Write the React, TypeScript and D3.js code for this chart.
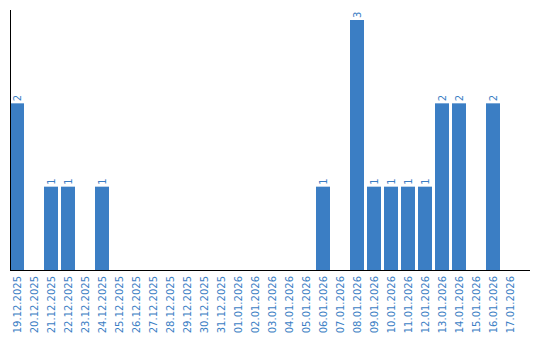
import React from "react";
import * as d3 from "d3";

const categories = [
  "19.12.2025", "20.12.2025", "21.12.2025", "22.12.2025", "23.12.2025", "24.12.2025",
  "25.12.2025", "26.12.2025", "27.12.2025", "28.12.2025", "29.12.2025", "30.12.2025",
  "31.12.2025", "01.01.2026", "02.01.2026", "03.01.2026", "04.01.2026", "05.01.2026",
  "06.01.2026", "07.01.2026", "08.01.2026", "09.01.2026", "10.01.2026", "11.01.2026",
  "12.01.2026", "13.01.2026", "14.01.2026", "15.01.2026", "16.01.2026", "17.01.2026",
];
const values = [2, 0, 1, 1, 0, 1, 0, 0, 0, 0, 0, 0, 0, 0, 0, 0, 0, 0, 1, 0, 3, 1, 1, 1, 1, 2, 2, 0, 2, 0];

const W = 540;
const H = 340;
const left = 10;
const base = 270;
const top = 10;
const step = 17;
const color = "#3b7ec4";
const font = "'DejaVu Sans', Verdana, sans-serif";

export default function App() {
  const x = d3.scaleBand<string>().domain(categories).range([left, left + categories.length * step]).padding(0);
  const y = d3.scaleLinear().domain([0, 3.12]).range([base, top]);
  const bw = x.bandwidth() - 3;
  return (
    <svg width={W} height={H} style={{ position: "absolute", left: 0, top: 0, display: "block" }}>
      {categories.map((c, i) => {
        const v = values[i];
        const bx = x(c)!;
        const cx = bx + bw / 2;
        return (
          <g key={c}>
            {v > 0 && (
              <>
                <rect x={bx} y={y(v)} width={bw} height={base - y(v)} fill={color} />
                <text
                  transform={`translate(${cx},${y(v) - 2}) rotate(-90)`}
                  dy="0.35em"
                  textAnchor="start"
                  fontFamily={font}
                  fontSize={10}
                  fill={color}
                >
                  {v}
                </text>
              </>
            )}
            <text
              transform={`translate(${cx},${base + 6}) rotate(-90)`}
              dy="0.35em"
              textAnchor="end"
              fontFamily={font}
              fontSize={10}
              fill={color}
            >
              {c}
            </text>
          </g>
        );
      })}
      <line x1={left + 0.5} x2={left + 0.5} y1={top} y2={base + 1} stroke="#000" strokeWidth={1} />
      <line x1={left} x2={530} y1={base + 0.5} y2={base + 0.5} stroke="#000" strokeWidth={1} />
    </svg>
  );
}
